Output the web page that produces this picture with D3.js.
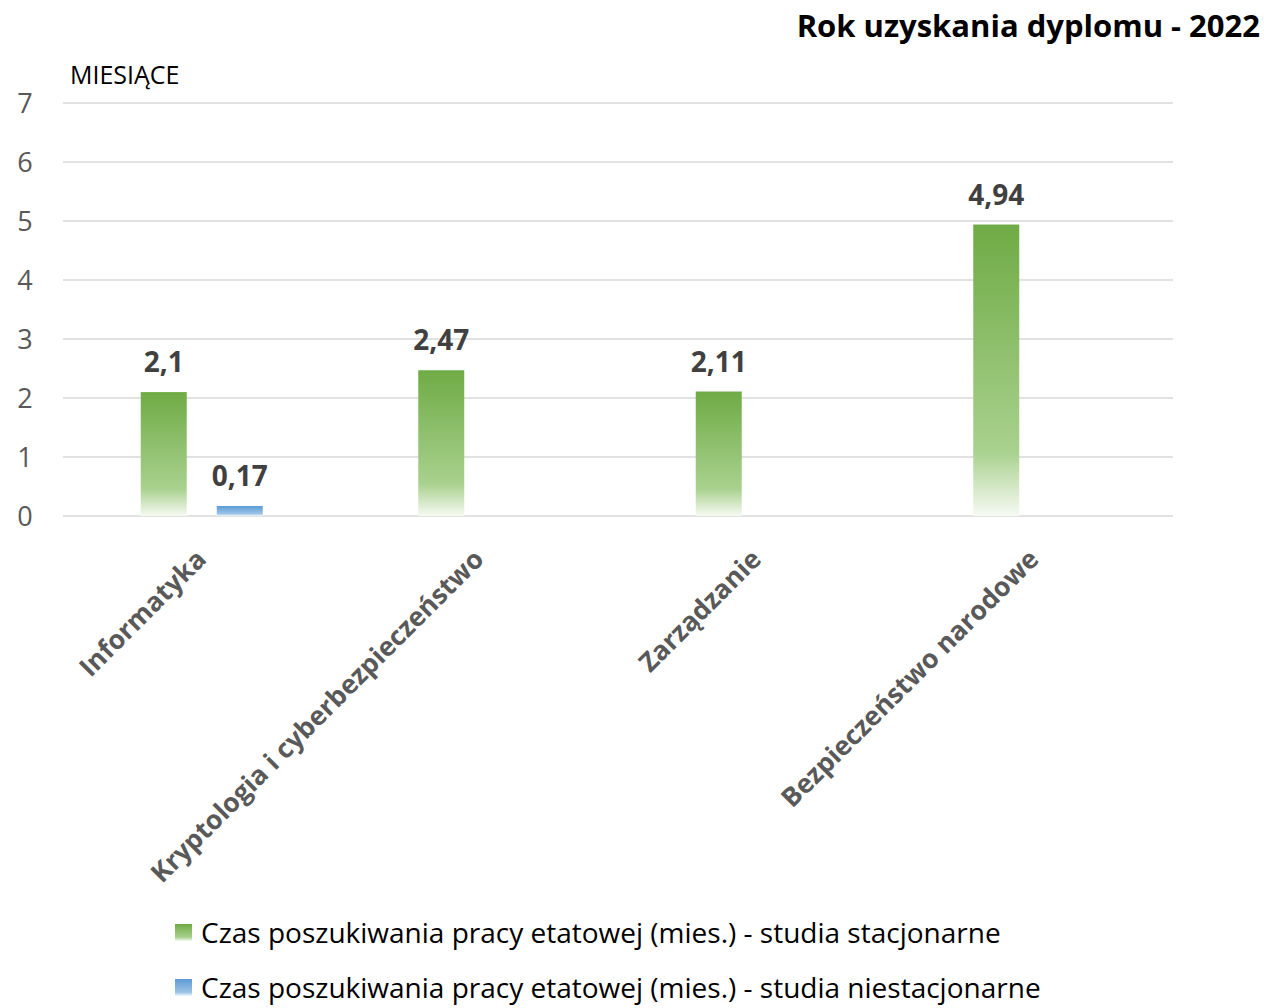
<!DOCTYPE html>
<html>
<head>
<meta charset="utf-8">
<script src="https://cdn.jsdelivr.net/npm/d3@7.9.0/dist/d3.min.js"></script>
<style>
  body { margin: 0; background: #fff; }
  svg { display: block; font-family: "Open Sans", "Noto Sans", sans-serif; }
</style>
</head>
<body>
<svg id="chart" width="1264" height="1008"></svg>
<script>
const categories = ['Informatyka', 'Kryptologia i cyberbezpieczeństwo', 'Zarządzanie', 'Bezpieczeństwo narodowe'];
const stacjonarne = [2.1, 2.47, 2.11, 4.94];
const niestacjonarne = [0.17, null, null, null];
const seriesNames = [
  'Czas poszukiwania pracy etatowej (mies.) - studia stacjonarne',
  'Czas poszukiwania pracy etatowej (mies.) - studia niestacjonarne'
];
const yTicks = [0, 1, 2, 3, 4, 5, 6, 7];

const svg = d3.select('#chart');
const plotLeft = 63, plotRight = 1173, plotTop = 103, plotBottom = 516;

const x = d3.scaleBand().domain(categories).range([plotLeft, plotRight]);
const y = d3.scaleLinear().domain([0, 7]).range([plotBottom, plotTop]);
// two bars per category, offset from category centre
const sub = d3.scaleBand().domain([0, 1]).range([-61, 61]).paddingInner(0.395);

// gradients
const defs = svg.append('defs');
function grad(id, c0, c1, c2) {
  let g = defs.append('linearGradient').attr('id', id)
    .attr('x1', 0).attr('y1', 0).attr('x2', 0).attr('y2', 1);
  g.append('stop').attr('offset', '0%').attr('stop-color', c0);
  g.append('stop').attr('offset', '78%').attr('stop-color', c1);
  g.append('stop').attr('offset', '100%').attr('stop-color', c2);
}
grad('g-green', '#6fab45', '#a9d18e', '#f6faf3');
grad('g-blue', '#5b9bd5', '#9dc3e6', '#f2f7fc');
const fills = ['url(#g-green)', 'url(#g-blue)'];

// gridlines
svg.append('g').selectAll('line').data(yTicks).join('line')
  .attr('x1', plotLeft).attr('x2', plotRight)
  .attr('y1', d => y(d)).attr('y2', d => y(d))
  .attr('stroke', '#d9d9d9').attr('stroke-width', 1.5);

// y tick labels
svg.append('g').selectAll('text').data(yTicks).join('text')
  .attr('x', 25).attr('y', d => y(d)).attr('dy', '0.36em')
  .attr('text-anchor', 'middle')
  .attr('font-size', 27).attr('fill', '#595959')
  .text(d => d);

// bars
const series = [stacjonarne, niestacjonarne];
series.forEach((vals, si) => {
  const pts = categories.map((c, i) => ({ c, v: vals[i] })).filter(d => d.v != null);
  const g = svg.append('g');
  g.selectAll('rect').data(pts).join('rect')
    .attr('x', d => x(d.c) + x.bandwidth() / 2 + sub(si))
    .attr('width', sub.bandwidth())
    .attr('y', d => y(d.v))
    .attr('height', d => y(0) - y(d.v))
    .attr('fill', fills[si]);
  g.selectAll('text').data(pts).join('text')
    .attr('x', d => x(d.c) + x.bandwidth() / 2 + sub(si) + sub.bandwidth() / 2)
    .attr('y', d => y(d.v) - 20)
    .attr('text-anchor', 'middle')
    .attr('font-size', 28).attr('font-weight', 'bold').attr('fill', '#404040')
    .text(d => String(d.v).replace('.', ','));
});

// x labels
svg.append('g').selectAll('text').data(categories).join('text')
  .attr('transform', d => `translate(${x(d) + x.bandwidth() / 2 + 6},${561}) rotate(-45)`)
  .attr('text-anchor', 'end')
  .attr('font-size', 26.5).attr('font-weight', 'bold').attr('fill', '#595959')
  .text(d => d);

// axis title
svg.append('text').attr('x', 70).attr('y', 84)
  .attr('font-size', 25).attr('fill', '#000').text('MIESIĄCE');

// chart title
svg.append('text').attr('x', 1260).attr('y', 37)
  .attr('text-anchor', 'end')
  .attr('font-size', 31).attr('font-weight', 'bold').attr('fill', '#000')
  .text('Rok uzyskania dyplomu - 2022');

// legend
const leg = svg.append('g').selectAll('g').data(seriesNames).join('g')
  .attr('transform', (d, i) => `translate(175,${924 + i * 55})`);
leg.append('rect').attr('width', 17).attr('height', 17)
  .attr('fill', (d, i) => fills[i]);
leg.append('text').attr('x', 26).attr('y', 9).attr('dy', '0.35em')
  .attr('font-size', 28).attr('fill', '#000')
  .text(d => d);
</script>
</body>
</html>
